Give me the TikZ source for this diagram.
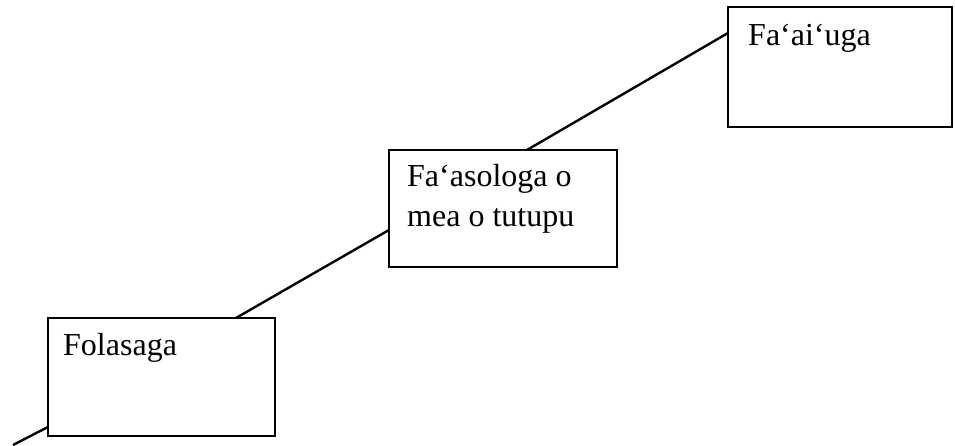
\documentclass[tikz,border=0pt]{standalone}
\usepackage{fontspec}
\setmainfont{Liberation Serif}
\usetikzlibrary{calc}

\begin{document}
\begin{tikzpicture}[x=1pt,y=1pt,
    box/.style={draw,line width=2.4pt,inner sep=0pt,outer sep=0pt,minimum width=#1},
    box/.default=227pt,
    lbl/.style={anchor=base west,inner sep=0pt,align=left,font=\fontsize{32}{40}\selectfont},
    link/.style={line width=2.4pt}]
    \useasboundingbox (0,0) rectangle (955,446);
    \node[box,minimum height=118pt] (fola) at (161.5,69) {};
    \node[box=228pt,minimum height=117pt] (faasologa) at (503,237.5) {};
    \node[box=224pt,minimum height=120pt] (faaiuga) at (840,379) {};
    \node[lbl] (tfola) at ($(fola.north west)+(15,-38)$) {Folasaga};
    \node[lbl] (tfaasologa) at ($(faasologa.north west)+(18,-77)$) {Fa‘asologa o\\mea o tutupu};
    \node[lbl] (tfaaiuga) at ($(faaiuga.north west)+(20,-39)$) {Fa‘ai‘uga};
    \coordinate (start) at (13,1);
    \draw[link] (start) -- (fola.west |- 0,19);
    \draw[link] (fola.north west -| 236,0) -- (faasologa.west |- 0,216);
    \draw[link] (faasologa.north west -| 527,0) -- (faaiuga.west |- 0,413);
\end{tikzpicture}
\end{document}
